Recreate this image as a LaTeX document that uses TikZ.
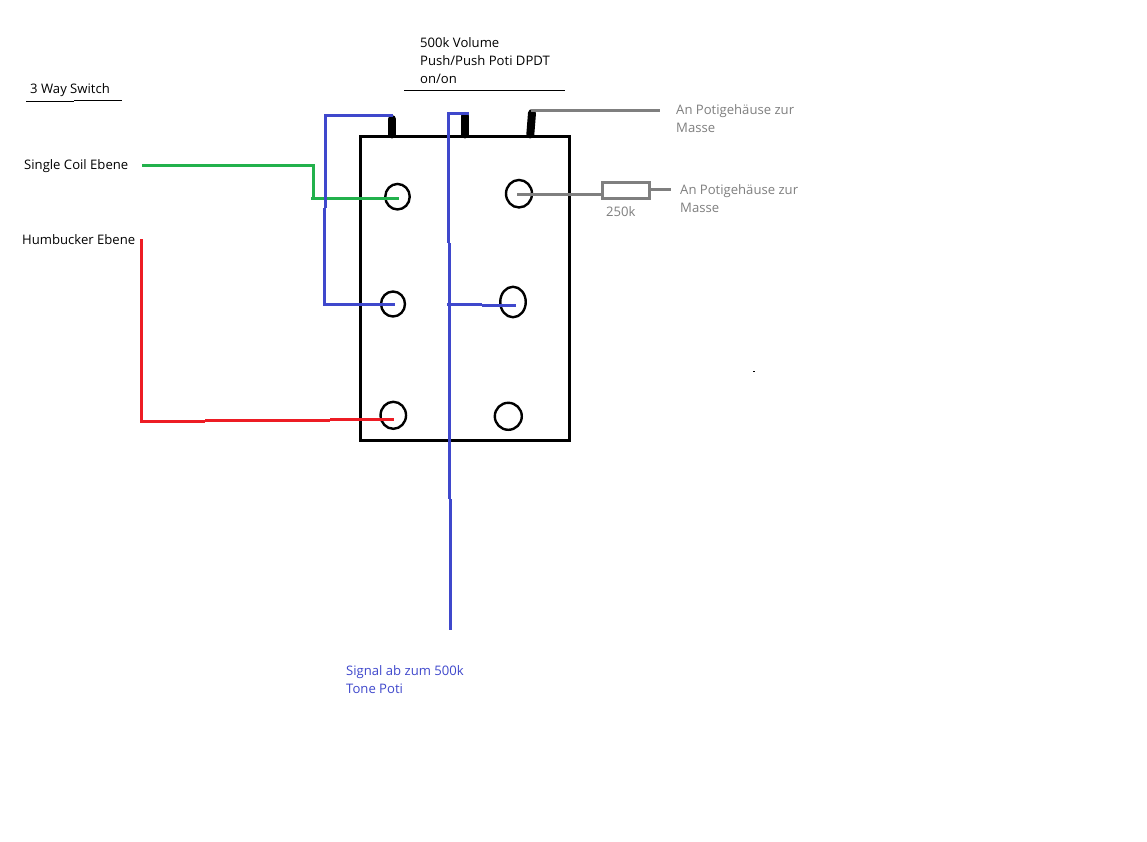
\documentclass[tikz,border=0pt]{standalone}
\usepackage{fontspec}
\setmainfont{Open Sans}
\usetikzlibrary{shapes.geometric}
\definecolor{wblue}{HTML}{3F48CC}
\definecolor{wgreen}{HTML}{22B14C}
\definecolor{wred}{HTML}{ED1C24}
\definecolor{wgray}{HTML}{7F7F7F}
\tikzset{
  lbl/.style={inner sep=0pt,anchor=west,align=left,font=\fontsize{13.1}{18}\selectfont},
  lblb/.style={inner sep=0pt,anchor=base west,font=\fontsize{13.1}{18}\selectfont},
  term/.style={ellipse,draw=black,line width=2.4pt,inner sep=0pt},
  pin/.style={line width=8pt,black,line cap=round},
  wire/.style={line width=3pt,line cap=butt,line join=miter},
  thin line/.style={line width=1pt,black}
}
\begin{document}
\begin{tikzpicture}[x=1pt,y=-1pt]
\useasboundingbox (0,0) rectangle (1147,842);
\fill[white] (0,0) rectangle (1147,842);
% switch body
\node[draw=black,line width=3pt,inner sep=0pt,minimum width=209pt,minimum height=303.5pt] (body) at (464.5,288.3) {};
% terminals
\node[term,minimum width=24.5pt,minimum height=25.5pt] (tl) at (397.5,196.7) {};
\node[term,minimum width=26pt,minimum height=27.5pt] (tr) at (519,193.7) {};
\node[term,minimum width=24pt,minimum height=25pt] (ml) at (393,304) {};
\node[term,minimum width=25.5pt,minimum height=30.5pt] (mr) at (513,302) {};
\node[term,minimum width=25.5pt,minimum height=27pt] (bl) at (393.3,415.3) {};
\node[term,minimum width=27pt,minimum height=27pt] (br) at (508.3,416.3) {};
% pins
\coordinate (p1a) at (392,119); \coordinate (p1b) at (392,134.5);
\coordinate (p2a) at (465.3,116); \coordinate (p2b) at (465.3,134.5);
\coordinate (p3a) at (532,113); \coordinate (p3b) at (530.3,134.5);
\draw[pin] (p1a) -- (p1b);
\draw[pin] (p2a) -- (p2b);
\draw[pin] (p3a) -- (p3b);
% labels
\node[lblb] (way) at (30,93.8) {3 Way Switch};
\node[lblb] (sc) at (24,169.8) {Single Coil Ebene};
\node[lblb] (hb) at (22,244) {Humbucker Ebene};
\node[lbl] (poti) at (420,60.5) {500k Volume\\Push/Push Poti DPDT\\on/on};
\node[lbl,text=wgray] (gnd1) at (676,118.5) {An Potigehäuse zur\\Masse};
\node[lbl,text=wgray] (gnd2) at (680,198.5) {An Potigehäuse zur\\Masse};
\node[lbl,text=wgray] (rv) at (606,211.5) {250k};
\node[lbl,text=wblue] (sig) at (346,679.5) {Signal ab zum 500k\\Tone Poti};
% underlines
\coordinate (u1) at (26,101.5); \coordinate (u2) at (74,101.5); \coordinate (u3) at (74,100.5); \coordinate (u4) at (122,100.5);
\draw[thin line] (u1) -- (u2);
\draw[thin line] (u3) -- (u4);
\coordinate (u5) at (404,90.5); \coordinate (u6) at (565,90.5);
\draw[thin line] (u5) -- (u6);
% green wire
\coordinate (ga) at (142,165.5); \coordinate (gb) at (313.5,165.5);
\coordinate (gc) at (313.5,199.8); \coordinate (gd) at (311,198.5); \coordinate (ge) at (399,198.5);
\draw[wire,wgreen] (ga) -- (gb) -- (gc);
\draw[wire,wgreen] (gd) -- (ge);
% red wire
\coordinate (ra) at (141.5,239); \coordinate (rb) at (141.5,421.2); \coordinate (rc) at (205,421.2);
\coordinate (rd) at (205,420.5); \coordinate (re) at (330,420.5); \coordinate (rf) at (330,419); \coordinate (rg) at (394,419);
\draw[wire,wred] (ra) -- (rb) -- (rc);
\draw[wire,wred] (rd) -- (re);
\draw[wire,wred] (rf) -- (rg);
% blue wires
\coordinate (ba) at (393,115.5); \coordinate (bb) at (325.5,115.5); \coordinate (bc) at (325.5,208);
\coordinate (bd) at (324.5,208); \coordinate (be) at (324.5,304.3); \coordinate (bf) at (394.5,304.3);
\draw[wire,wblue] (ba) -- (bb) -- (bc);
\draw[wire,wblue] (bd) -- (be) -- (bf);
\coordinate (ca) at (469,114); \coordinate (cb) at (448.3,114); \coordinate (cc) at (448.3,243);
\coordinate (cd) at (449.5,243); \coordinate (ce) at (449.5,499); \coordinate (cf) at (450.5,499); \coordinate (cg) at (450.5,630);
\draw[wire,wblue] (ca) -- (cb) -- (cc);
\draw[wire,wblue] (cd) -- (ce);
\draw[wire,wblue] (cf) -- (cg);
\coordinate (da) at (447,304.3); \coordinate (db) at (482,304.3); \coordinate (dc) at (482,305.5); \coordinate (dd) at (516,305.5);
\draw[wire,wblue] (da) -- (db);
\draw[wire,wblue] (dc) -- (dd);
% gray wires and resistor
\coordinate (ea) at (531,110.5); \coordinate (eb) at (660,110.5);
\draw[wire,wgray] (ea) -- (eb);
\node[draw=wgray,line width=3pt,inner sep=0pt,minimum width=47pt,minimum height=15.5pt] (res) at (626.2,190.3) {};
\coordinate (fa) at (517,194.5); \coordinate (fb) at (602,194.5);
\draw[wire,wgray] (fa) -- (fb);
\coordinate (fc) at (650,189.5); \coordinate (fd) at (671,189.5);
\draw[wire,wgray] (fc) -- (fd);
% speck
\fill[black] (753,370.5) rectangle (755,372);
\end{tikzpicture}
\end{document}
